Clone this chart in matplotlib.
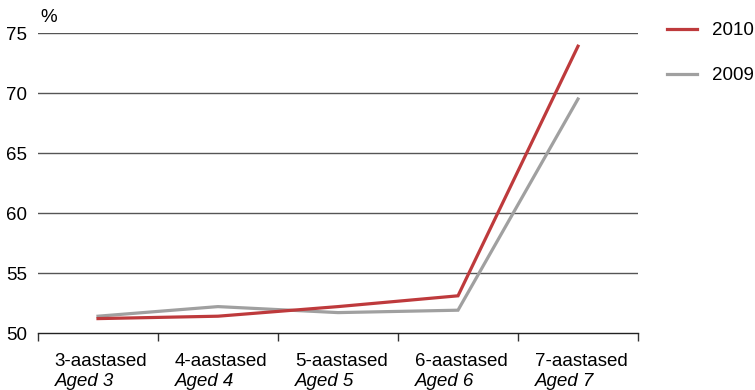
import matplotlib
matplotlib.use("Agg")
import matplotlib.pyplot as plt
import matplotlib.transforms as mtransforms
import numpy as np

# ============================================================
# DONNÉES
# ============================================================
categories_et = ["3-aastased", "4-aastased", "5-aastased", "6-aastased", "7-aastased"]
categories_en = ["Aged 3", "Aged 4", "Aged 5", "Aged 6", "Aged 7"]
values_2010 = [51.2, 51.4, 52.2, 53.1, 73.9]
values_2009 = [51.4, 52.2, 51.7, 51.9, 69.5]
y_ticks = [50, 55, 60, 65, 70, 75]

RED = "#BE3A3C"
GREY = "#A0A0A0"
FS = 13.5

plt.rcParams["font.family"] = ["Liberation Sans", "DejaVu Sans"]

fig = plt.figure(figsize=(7.55, 3.9), dpi=100)
ax = fig.add_axes([38 / 755, 57 / 390, 600 / 755, 300 / 390])

x = np.arange(len(categories_et)) + 0.5
ax.plot(x, values_2010, color=RED, lw=2.3, label="2010", solid_joinstyle="miter", zorder=3)
ax.plot(x, values_2009, color=GREY, lw=2.3, label="2009", solid_joinstyle="miter", zorder=2)

ax.set_xlim(0, len(categories_et))
ax.set_ylim(50, 75)
ax.set_yticks(y_ticks)
ax.set_yticklabels([str(v) for v in y_ticks], fontsize=FS)
ax.tick_params(axis="y", length=0, pad=8)
ax.set_xticks(np.arange(len(categories_et) + 1))
ax.set_xticklabels([])
ax.tick_params(axis="x", length=6, width=1, direction="out", color="#333333")

# grille horizontale
for v in y_ticks[1:]:
    ax.axhline(v, color="#555555", lw=1, zorder=1)

for s in ["left", "right", "top"]:
    ax.spines[s].set_visible(False)
ax.spines["bottom"].set_color("#222222")
ax.spines["bottom"].set_linewidth(1)

# étiquettes de catégories sur deux lignes
trans = mtransforms.blended_transform_factory(ax.transData, ax.transAxes)
for i, (et, en) in enumerate(zip(categories_et, categories_en)):
    ax.text(i + 0.14, -0.068, et, transform=trans, ha="left", va="top", fontsize=FS)
    ax.text(i + 0.14, -0.135, en, transform=trans, ha="left", va="top", fontsize=FS,
            style="italic")

ax.text(40 / 755, 1 - 18 / 390, "%", transform=fig.transFigure, fontsize=FS,
        ha="left", va="center")

ax.legend(loc="upper left", bbox_to_anchor=(667 / 755, 1 - 22 / 390),
          bbox_transform=fig.transFigure, frameon=False, fontsize=FS,
          handlelength=1.6, handletextpad=0.8, labelspacing=1.5,
          borderpad=0, borderaxespad=0)

fig.savefig("out.png", dpi=100)
